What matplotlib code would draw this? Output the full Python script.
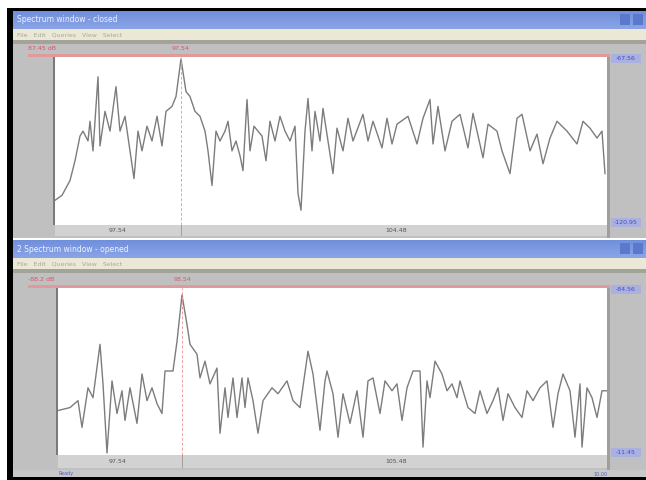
import matplotlib.pyplot as plt
from matplotlib.patches import Rectangle

# 上窗口数据 (频点, 幅度)
top_freq = [0, 7, 15, 20, 25, 28, 33, 35, 38, 43, 45, 50, 55, 61, 65, 70, 75, 79, 83, 87,
            92, 97, 102, 107, 111, 117, 121, 126, 131, 135, 140, 145, 150, 153, 157, 161,
            165, 170, 173, 177, 181, 185, 188, 192, 195, 199, 203, 207, 211, 215, 220, 225,
            230, 235, 240, 243, 246, 250, 253, 257, 260, 265, 268, 278, 282, 288, 293, 298,
            308, 313, 318, 327, 332, 337, 342, 353, 362, 368, 375, 378, 383, 390, 397, 405,
            413, 418, 428, 433, 442, 447, 455, 462, 467, 475, 482, 488, 495, 502, 512, 522,
            528, 535, 542, 547, 550]
top_amp = [25, 30, 45, 65, 90, 95, 85, 105, 75, 150, 80, 115, 95, 140, 95, 110, 75, 47, 95, 75,
           100, 85, 110, 80, 115, 120, 130, 168, 135, 130, 115, 110, 95, 75, 40, 95,
           85, 95, 105, 75, 85, 70, 55, 127, 75, 100, 95, 90, 65, 105, 85, 110,
           95, 85, 100, 32, 15, 95, 128, 75, 115, 85, 118, 52, 98, 75, 108, 85,
           112, 85, 105, 78, 108, 82, 102, 110, 82, 108, 127, 82, 120, 75, 105, 112,
           78, 113, 68, 102, 95, 75, 52, 108, 112, 75, 92, 62, 88, 105, 95, 82,
           105, 98, 88, 95, 52]

# 下窗口数据
bot_freq = [0, 12, 20, 24, 30, 35, 42, 45, 49, 54, 59, 64, 67, 72, 79, 84, 89, 94, 99, 104,
            107, 115, 119, 124, 129, 132, 139, 142, 147, 152, 159, 162, 167, 170, 175, 179,
            184, 187, 190, 195, 200, 205, 214, 220, 229, 235, 242, 250, 255, 262, 267, 269,
            275, 280, 285, 292, 299, 305, 310, 315, 322, 327, 334, 339, 344, 349, 355, 362,
            365, 369, 372, 377, 384, 389, 394, 399, 402, 410, 417, 422, 429, 435, 440, 445,
            450, 457, 464, 469, 475, 482, 489, 495, 500, 505, 512, 517, 522, 524, 529, 534,
            539, 544, 549]
bot_amp = [45, 48, 55, 28, 68, 58, 112, 72, 2, 75, 42, 65, 35, 68, 32, 82, 55, 68, 52, 42,
           85, 85, 115, 162, 132, 112, 102, 78, 95, 72, 88, 22, 68, 38, 78, 38,
           78, 48, 78, 55, 22, 55, 68, 62, 75, 55, 48, 105, 82, 25, 75, 85,
           62, 18, 62, 32, 65, 18, 75, 78, 42, 75, 65, 72, 35, 68, 85, 85,
           8, 75, 58, 95, 82, 65, 72, 58, 75, 48, 42, 65, 42, 55, 68, 35,
           62, 48, 38, 65, 55, 68, 75, 28, 62, 82, 65, 18, 72, 8, 68, 58,
           38, 65, 65]

W, H = 646, 480
fig = plt.figure(figsize=(6.46, 4.80), dpi=100)
bg = fig.add_axes([0, 0, 1, 1])
bg.set_xlim(0, W)
bg.set_ylim(H, 0)
bg.axis('off')


def box(x, y, w, h, color, z=1):
    bg.add_patch(Rectangle((x, y), w, h, facecolor=color, edgecolor='none', zorder=z))


# 外框
box(0, 0, W, H, 'white', 0)
box(7, 8, W - 7, 3, 'black')
box(7, 8, 6, H - 8, 'black')
box(7, 477, W - 7, 3, 'black')

windows = [
    dict(y0=11, title='Spectrum window - closed', top=57, bottom=225, left=55, end=238,
         lmax='87.45 dB', peak='97.54', rtop='-67.56', rbot='-120.95',
         t1='97.54', t2='104.48', peakx=181),
    dict(y0=240, title='2 Spectrum window - opened', top=288, bottom=455, left=58, end=470,
         lmax='-88.2 dB', peak='98.54', rtop='-84.56', rbot='-11.45',
         t1='97.54', t2='105.48', peakx=182),
]

for w in windows:
    y0 = w['y0']
    # 标题栏
    for i in range(18):
        t = i / 17
        c = (0.44 + 0.1 * t, 0.56 + 0.08 * t, 0.86 + 0.04 * t)
        box(13, y0 + i, W - 13, 1, c)
    bg.text(17, y0 + 9, w['title'], color='#eef2ff', fontsize=5.5, va='center', zorder=3)
    box(W - 26, y0 + 3, 10, 11, '#5a78cc', 3)
    box(W - 13, y0 + 3, 10, 11, '#5a78cc', 3)
    # 菜单栏
    box(13, y0 + 18, W - 13, 11, '#ebe8d6')
    bg.text(17, y0 + 24, 'File   Edit   Queries   View   Select', color='#a8a89e',
            fontsize=4.5, va='center', zorder=3)
    box(13, y0 + 29, W - 13, 4, '#a3a39b')
    # 灰色面板
    box(13, y0 + 33, W - 13, w['end'] - y0 - 33, '#c0c0c0')
    # 白色绘图区
    box(w['left'], w['top'], 607 - w['left'], w['bottom'] - w['top'], 'white', 1.5)
    box(w['left'] - 2, w['top'], 2, w['bottom'] - w['top'], '#7a7a7a', 1.6)
    box(607, w['top'], 3, w['end'] - w['top'], '#9e9e9e', 1.6)
    # 红色最大值线
    box(28, w['top'] - 3, 582, 2.5, '#e09a9a', 2)
    bg.text(28, w['top'] - 6, w['lmax'], color='#e0506a', fontsize=4.5, va='bottom', zorder=3)
    bg.text(w['peakx'], w['top'] - 6, w['peak'], color='#e0506a', fontsize=4.5,
            ha='center', va='bottom', zorder=3)
    # 右侧标注
    box(611, w['top'] - 3, 30, 9, '#aab0e0', 2)
    bg.text(626, w['top'] + 1.5, w['rtop'], color='#4050c0', fontsize=4.5,
            ha='center', va='center', zorder=3)
    box(611, w['bottom'] - 7, 30, 9, '#aab0e0', 2)
    bg.text(626, w['bottom'] - 2.5, w['rbot'], color='#4050c0', fontsize=4.5,
            ha='center', va='center', zorder=3)
    # 底部刻度条
    box(w['left'], w['bottom'], 607 - w['left'], w['end'] - w['bottom'] - 2, '#d2d2d2', 1.6)
    box(w['peakx'], w['bottom'], 1, w['end'] - w['bottom'] - 2, '#a0a0a0', 1.7)
    mid = (w['bottom'] + w['end']) / 2 - 1
    bg.text(118, mid, w['t1'], color='#555555', fontsize=4.5, ha='center', va='center', zorder=3)
    bg.text(396, mid, w['t2'], color='#555555', fontsize=4.5, ha='center', va='center', zorder=3)

# 底部状态栏
box(13, 470, W - 13, 7, '#c8c8c8', 2)
bg.text(66, 474, 'Ready', color='#5060d0', fontsize=3.5, ha='center', va='center', zorder=3)
bg.text(600, 474, '10.00', color='#5060d0', fontsize=3.5, ha='center', va='center', zorder=3)

# 两个频谱曲线
series = [(top_freq, top_amp, windows[0], 552, 170, 126),
          (bot_freq, bot_amp, windows[1], 549, 169, 124)]
for freq, amp, w, xmax, ymax, peak in series:
    ax = fig.add_axes([w['left'] / W, 1 - w['bottom'] / H,
                       (607 - w['left']) / W, (w['bottom'] - w['top']) / H])
    ax.patch.set_alpha(0)
    ax.plot(freq, amp, color='#7c7c7c', lw=1.0)
    ax.axvline(peak, color='#f0a0a0', lw=0.7, ls=(0, (3, 2)))
    ax.set_xlim(0, xmax)
    ax.set_ylim(0, ymax)
    ax.axis('off')

fig.savefig('out.png', dpi=100)
